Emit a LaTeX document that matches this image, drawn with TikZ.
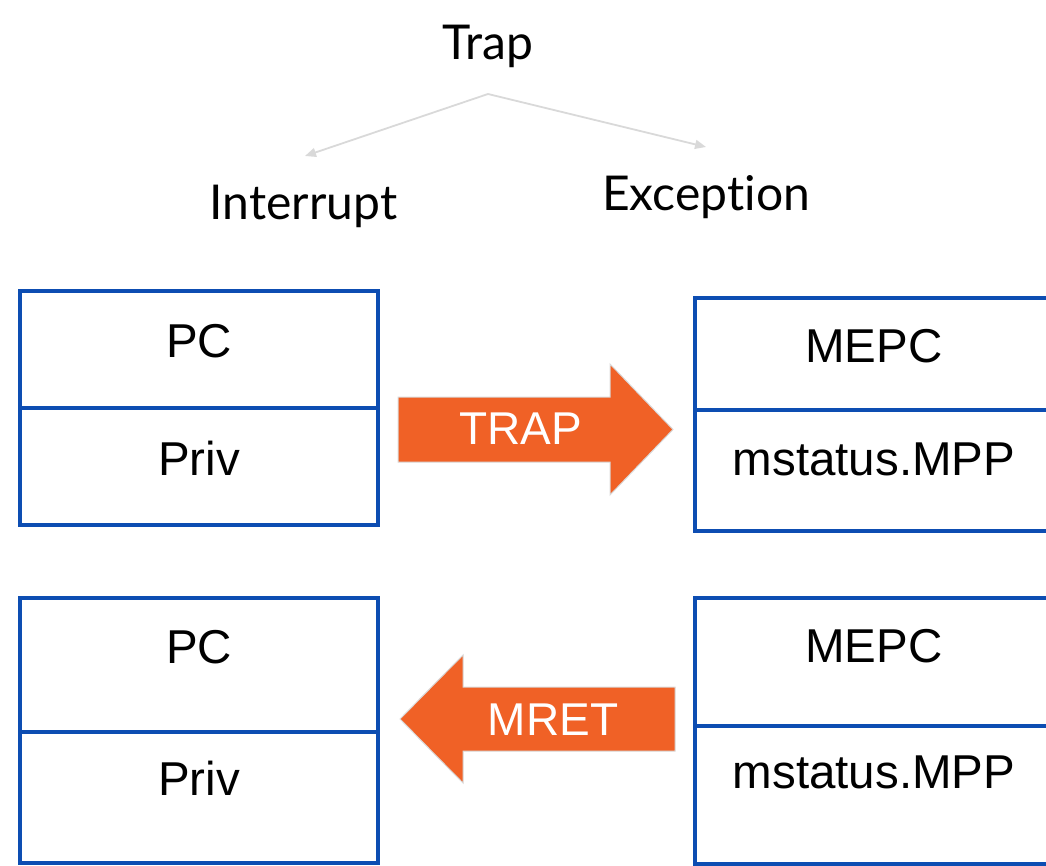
\documentclass[tikz,border=0pt]{standalone}
\usepackage{fontspec}
\setmainfont{Liberation Sans}
\newfontfamily\latofont[Ligatures=NoCommon]{Lato}
\usetikzlibrary{arrows.meta}
\definecolor{boxblue}{HTML}{0D4DB2}
\definecolor{trapor}{HTML}{F06126}
\definecolor{lgrey}{HTML}{D9D9D9}
\begin{document}
\begin{tikzpicture}[x=1pt,y=-1pt,
  cell/.style={draw=boxblue, line width=3.3pt, minimum width=358pt, inner sep=0pt},
  celltext/.style={font=\fontsize{47.5}{50}\selectfont, anchor=base, inner sep=0pt},
  toptext/.style={font=\latofont\fontsize{48}{52}\selectfont, anchor=base, inner sep=0pt},
  forkline/.style={draw=lgrey, line width=1.8pt, -{Triangle[length=11pt,width=9pt]}},
  bigarrow/.style={fill=trapor, draw=black!15, line width=1pt},
  arrowtext/.style={font=\fontsize{46}{50}\selectfont, text=white, anchor=base, inner sep=0pt}]
\useasboundingbox (0,0) rectangle (1046,866);

% top tree
\node[toptext] (trap) at (488,60) {Trap};
\node[toptext] (intr) at (303.5,220) {Interrupt};
\node[toptext] (exc) at (706,211) {Exception};
\coordinate (fork) at (488,94);
\coordinate (intrtip) at (305,156);
\coordinate (exctip) at (706,147);
\draw[forkline] (fork) -- (intrtip);
\draw[forkline] (fork) -- (exctip);

% top-left box
\node[cell, minimum height=117pt] (tlpc) at (199,349.5) {};
\node[cell, minimum height=117pt] (tlpriv) at (199,466.5) {};
\node[celltext] (tlpct) at (199,357) {PC};
\node[celltext] (tlprivt) at (199,475) {Priv};

% top-right box
\node[cell, minimum height=112pt] (trmepc) at (874,354) {};
\node[cell, minimum height=121pt] (trmpp) at (874,470.5) {};
\node[celltext] (trmepct) at (874,362) {MEPC};
\node[celltext] (trmppt) at (874,475) {mstatus.MPP};

% bottom-left box
\node[cell, minimum height=134pt] (blpc) at (199,665) {};
\node[cell, minimum height=131pt] (blpriv) at (199,797.5) {};
\node[celltext] (blpct) at (199,663) {PC};
\node[celltext] (blprivt) at (199,795) {Priv};

% bottom-right box
\node[cell, minimum height=128pt] (brmepc) at (874,662) {};
\node[cell, minimum height=138pt] (brmpp) at (874,795) {};
\node[celltext] (brmepct) at (874,662) {MEPC};
\node[celltext] (brmppt) at (874,788) {mstatus.MPP};

% TRAP arrow
\path[bigarrow] (398,397) -- (610,397) -- (610,364) -- (673,429.5) -- (610,495) -- (610,462) -- (398,462) -- cycle;
\node[arrowtext] (traplbl) at (521,444) {TRAP};

% MRET arrow
\path[bigarrow] (675,687) -- (463,687) -- (463,655) -- (400,719) -- (463,783) -- (463,751) -- (675,751) -- cycle;
\node[arrowtext] (mretlbl) at (553,735) {MRET};
\end{tikzpicture}
\end{document}
